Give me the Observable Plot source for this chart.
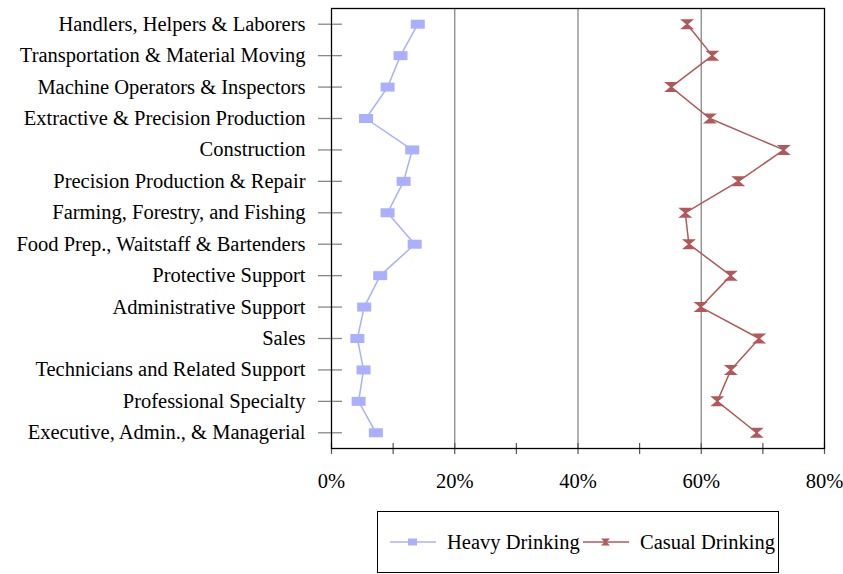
<!DOCTYPE html>
<html>
<head>
<meta charset="utf-8">
<script src="https://cdn.jsdelivr.net/npm/d3@7"></script>
<script src="https://cdn.jsdelivr.net/npm/@observablehq/plot@0.6"></script>
<style>
  body { margin: 0; background: #fff; font-family: "Liberation Serif", "DejaVu Serif", serif; }
  #wrap { position: relative; width: 843px; height: 574px; }
  #legend { position: absolute; left: 377px; top: 511px; width: 402px; height: 62px; box-sizing: border-box;
    border: 1px solid #000; font-size: 20.5px; color: #000; }
  #legend .item { position: absolute; top: 0; height: 60px; display: flex; align-items: center; white-space: nowrap; }
  #legend svg { display: block; }
</style>
</head>
<body>
<div id="wrap"><div id="chart"></div><div id="legend"></div></div>
<script>
const categories = [
  "Handlers, Helpers & Laborers",
  "Transportation & Material Moving",
  "Machine Operators & Inspectors",
  "Extractive & Precision Production",
  "Construction",
  "Precision Production & Repair",
  "Farming, Forestry, and Fishing",
  "Food Prep., Waitstaff & Bartenders",
  "Protective Support",
  "Administrative Support",
  "Sales",
  "Technicians and Related Support",
  "Professional Specialty",
  "Executive, Admin., & Managerial"
];
const heavyDrinking = [14.0, 11.2, 9.1, 5.6, 13.1, 11.7, 9.1, 13.5, 7.9, 5.3, 4.2, 5.2, 4.4, 7.2];
const casualDrinking = [57.7, 61.8, 55.1, 61.4, 73.4, 66.0, 57.4, 58.0, 64.8, 59.9, 69.4, 64.8, 62.6, 69.0];
const seriesNames = ["Heavy Drinking", "Casual Drinking"];
const xTicks = [0, 10, 20, 30, 40, 50, 60, 70, 80];
const xLabelTicks = [0, 20, 40, 60, 80];
const gridTicks = [20, 40, 60];

const heavyColor = "#aab0ff";
const casualColor = "#b35858";

const squareSym = { draw(ctx) { ctx.rect(-7, -4.5, 14, 9); } };
const hourglassSym = { draw(ctx) {
  ctx.moveTo(-7, -5); ctx.lineTo(7, -5); ctx.lineTo(1, 0); ctx.lineTo(7, 5);
  ctx.lineTo(-7, 5); ctx.lineTo(-1, 0); ctx.closePath();
} };

const heavy = categories.map((c, i) => ({ cat: c, v: heavyDrinking[i] }));
const casual = categories.map((c, i) => ({ cat: c, v: casualDrinking[i] }));

const chart = Plot.plot({
  width: 843,
  height: 505,
  marginLeft: 331,
  marginRight: 19,
  marginTop: 8,
  marginBottom: 57,
  style: { fontFamily: "'Liberation Serif', serif", fontSize: "20.5px", color: "#000", background: "#fff" },
  x: { domain: [0, 80], label: null },
  y: { type: "point", domain: categories, padding: 0.5, round: false, label: null },
  marks: [
    Plot.gridX(gridTicks, { stroke: "#888", strokeOpacity: 1, strokeWidth: 1.3 }),
    Plot.axisX(xTicks, { anchor: "bottom", tickSize: 11, dy: -5, text: null, stroke: "#555", strokeWidth: 1.2, label: null }),
    Plot.axisX(xLabelTicks, { anchor: "bottom", tickSize: 0, tickPadding: 25, tickFormat: d => d + "%", fontSize: 20.5, label: null }),
    Plot.axisY({ anchor: "left", tickSize: 24, dx: 11, text: null, stroke: "#888", strokeWidth: 1.3, label: null }),
    Plot.axisY({ anchor: "left", tickSize: 0, tickPadding: 26, fontSize: 20.5, label: null }),
    Plot.frame({ stroke: "#000", strokeWidth: 1.3 }),
    Plot.line(heavy, { x: "v", y: "cat", stroke: heavyColor, strokeWidth: 1.5 }),
    Plot.dot(heavy, { x: "v", y: "cat", symbol: () => squareSym, fill: heavyColor, r: 5 }),
    Plot.line(casual, { x: "v", y: "cat", stroke: casualColor, strokeWidth: 1.5 }),
    Plot.dot(casual, { x: "v", y: "cat", symbol: () => hourglassSym, fill: casualColor, r: 5 })
  ]
});
document.getElementById("chart").appendChild(chart);

// Legend
const legend = document.getElementById("legend");
const items = [
  { name: seriesNames[0], color: heavyColor, sym: "square", left: 12 },
  { name: seriesNames[1], color: casualColor, sym: "hourglass", left: 205 }
];
for (const it of items) {
  const div = document.createElement("div");
  div.className = "item";
  div.style.left = it.left + "px";
  const ns = "http://www.w3.org/2000/svg";
  const svg = document.createElementNS(ns, "svg");
  svg.setAttribute("width", 46); svg.setAttribute("height", 12);
  svg.style.marginRight = "11px";
  const ln = document.createElementNS(ns, "line");
  ln.setAttribute("x1", 0); ln.setAttribute("x2", 46); ln.setAttribute("y1", 6); ln.setAttribute("y2", 6);
  ln.setAttribute("stroke", it.color); ln.setAttribute("stroke-width", 1.5);
  svg.appendChild(ln);
  const p = document.createElementNS(ns, "path");
  p.setAttribute("fill", it.color);
  if (it.sym === "square") p.setAttribute("d", "M18,2.5h9v7h-9z");
  else p.setAttribute("d", "M18,2.5h9l-3.5,3.5l3.5,3.5h-9l3.5,-3.5z");
  svg.appendChild(p);
  div.appendChild(svg);
  const span = document.createElement("span");
  span.textContent = it.name;
  div.appendChild(span);
  legend.appendChild(div);
}
</script>
</body>
</html>
